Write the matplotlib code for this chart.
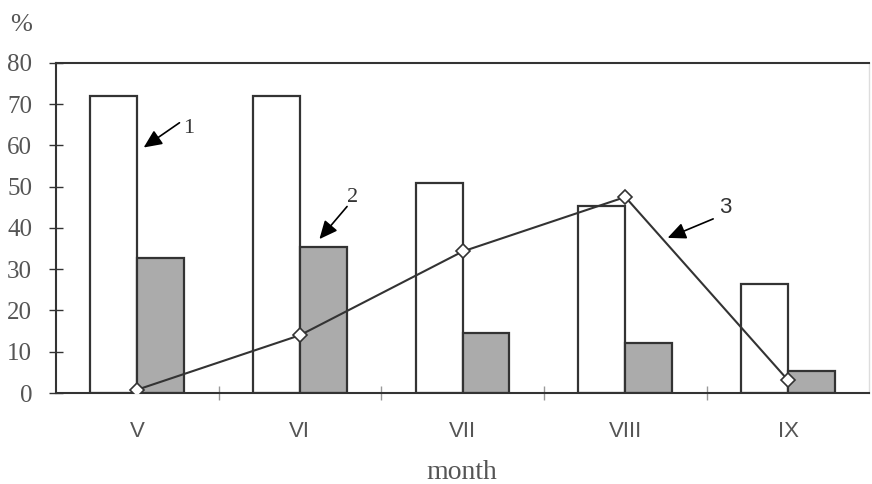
import numpy as np
import matplotlib.pyplot as plt

months = ["V", "VI", "VII", "VIII", "IX"]
series1 = [72, 72, 51, 45.3, 26.5]
series2 = [32.6, 35.5, 14.6, 12.1, 5.4]
series3 = [0.8, 14.0, 34.3, 47.5, 3.1]

serif = "Liberation Serif"
sans = "Liberation Sans"
ink = "#333333"

fig = plt.figure(figsize=(8.72, 4.84), dpi=100)
ax = fig.add_axes([0.064, 0.188, 0.933, 0.682])

x = np.arange(len(months))
w = 0.288
ax.bar(x - w / 2, series1, width=w, color="white", edgecolor=ink, linewidth=1.6, zorder=2)
ax.bar(x + w / 2, series2, width=w, color="#ababab", edgecolor=ink, linewidth=1.6, zorder=2)
ax.plot(x, series3, color=ink, linewidth=1.5, marker="D", markersize=7,
        markerfacecolor="white", markeredgecolor=ink, markeredgewidth=1.2, zorder=3)

ax.set_xlim(-0.5, 4.5)
ax.set_ylim(0, 80)
ax.set_yticks(range(0, 81, 10))
ax.set_yticklabels([str(v) for v in range(0, 81, 10)], fontfamily=serif, fontsize=18, color="#555555")
ax.set_xticks([0.5, 1.5, 2.5, 3.5])
ax.set_xticklabels([])
ax.set_xticks(x, minor=True)
ax.set_xticklabels(months, minor=True, fontfamily=sans, fontsize=16, color="#555555")
ax.tick_params(axis="y", direction="inout", length=10, width=1, color=ink, pad=12)
ax.tick_params(axis="x", which="major", direction="inout", length=10, width=1, color="#999999")
ax.tick_params(axis="x", which="minor", length=0, pad=20)

for s in ["left", "bottom", "top"]:
    ax.spines[s].set_color(ink)
    ax.spines[s].set_linewidth(1.5)
ax.spines["right"].set_color("#dddddd")
ax.spines["right"].set_linewidth(1)

fig.text(0.012, 0.935, "%", fontfamily=serif, fontsize=19, color="#555555")
fig.text(0.529, 0.023, "month", fontfamily=serif, fontsize=20, color="#555555",
         ha="center", va="center")

arrow = dict(arrowstyle="-|>,head_length=1.1,head_width=0.5", color="black", linewidth=1.2,
             shrinkA=0, shrinkB=0)
ax.annotate("", xy=(0.04, 59.5), xytext=(0.26, 65.5), arrowprops=arrow)
ax.text(0.285, 64.2, "1", fontfamily=serif, fontsize=16, color="#333333", va="center")
ax.annotate("", xy=(1.12, 37.3), xytext=(1.29, 45.2), arrowprops=arrow)
ax.text(1.29, 47.3, "2", fontfamily=serif, fontsize=16, color="#333333", va="center")
ax.annotate("", xy=(3.26, 37.6), xytext=(3.54, 42.2), arrowprops=arrow)
ax.text(3.575, 45.0, "3", fontfamily=sans, fontsize=16, color="#333333", va="center")

fig.savefig("out.png", dpi=100)
